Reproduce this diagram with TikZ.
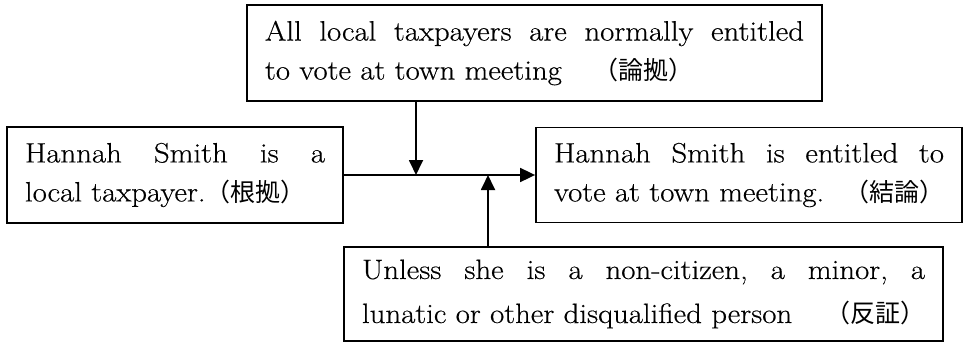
\documentclass[tikz,border=0pt]{standalone}
\usepackage{fontspec}
\setmainfont{Latin Modern Roman}[FakeStretch=1.1, FakeBold=0.4]
\newfontfamily\cjk{Noto Sans CJK JP}
\usetikzlibrary{arrows.meta}
\newcommand{\jp}[1]{{\cjk\fontsize{25}{39}\selectfont #1}}
\begin{document}
\begin{tikzpicture}[x=1pt,y=-1pt,
  txtbox/.style={draw, line width=1.8pt, rectangle, inner xsep=18pt, inner ysep=0pt,
    align=left, font=\fontsize{28}{39}\selectfont},
  arr/.style={line width=1.8pt, -{Triangle[length=15pt,width=14pt]}}]
\useasboundingbox (0,0) rectangle (963,342);
\node[txtbox, text width=539pt, minimum height=96pt] (T) at (534.5,53)
  {\makebox[\linewidth]{All\hfill local\hfill taxpayers\hfill are\hfill normally\hfill entitled}\\
   to vote at town meeting\hspace{32pt}\jp{（論拠）}};
\node[txtbox, text width=300pt, minimum height=96pt] (L) at (175,175)
  {\makebox[\linewidth]{Hannah\hfill Smith\hfill is\hfill a}\\
   local taxpayer.\jp{（根拠）}};
\node[txtbox, text width=390pt, minimum height=95pt] (R) at (749,175)
  {\makebox[\linewidth]{Hannah\hfill Smith\hfill is\hfill entitled\hfill to}\\
   \makebox[\linewidth]{vote at town meeting.\hfill\jp{（結論）}}};
\node[txtbox, text width=563pt, minimum height=94pt, font=\fontsize{28}{44}\selectfont] (B) at (643.5,294)
  {\makebox[\linewidth]{Unless\hfill she\hfill is\hfill a\hfill non-citizen,\hfill a\hfill minor,\hfill a}\\
   \makebox[\linewidth]{lunatic or other disqualified person\hfill\jp{（反証）}}};
\coordinate (j1) at (416,175);
\coordinate (j2) at (488,175);
\draw[arr] (L.east) -- (R.west);
\draw[arr] (T.south -| j1) -- (j1);
\draw[arr] (B.north -| j2) -- (j2);
\end{tikzpicture}
\end{document}
